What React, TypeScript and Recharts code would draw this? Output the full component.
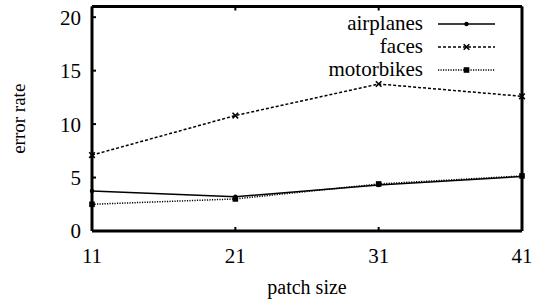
import React from 'react';
import { LineChart, Line, XAxis, YAxis, Legend } from 'recharts';

const patchSizes = [11, 21, 31, 41];
const airplanes = [3.75, 3.2, 4.3, 5.1];
const faces = [7.1, 10.8, 13.75, 12.6];
const motorbikes = [2.5, 3.0, 4.4, 5.15];
const yTicks = [0, 5, 10, 15, 20];

const data = patchSizes.map((p, i) => ({
  patch: p,
  airplanes: airplanes[i],
  faces: faces[i],
  motorbikes: motorbikes[i],
}));

const FONT = 'Liberation Serif';

// gnuplot-ish point markers
const DotMark = (props: any) => {
  const { cx, cy } = props;
  if (cx == null || cy == null) return null;
  return <circle cx={cx} cy={cy} r={2.2} fill="#000" />;
};
const CrossMark = (props: any) => {
  const { cx, cy } = props;
  if (cx == null || cy == null) return null;
  const s = 2.8;
  return (
    <g stroke="#000" strokeWidth={1.6}>
      <line x1={cx - s} y1={cy - s} x2={cx + s} y2={cy + s} />
      <line x1={cx - s} y1={cy + s} x2={cx + s} y2={cy - s} />
    </g>
  );
};
const SquareMark = (props: any) => {
  const { cx, cy } = props;
  if (cx == null || cy == null) return null;
  return <rect x={cx - 2.8} y={cy - 2.8} width={5.6} height={5.6} fill="#000" />;
};

const series = [
  { key: 'airplanes', dash: undefined, Mark: DotMark },
  { key: 'faces', dash: '3 2', Mark: CrossMark },
  { key: 'motorbikes', dash: '1.2 1.3', Mark: SquareMark },
];

const renderLegend = () => (
  <div style={{ fontFamily: FONT, fontSize: 21, color: '#000' }}>
    {series.map(({ key, dash, Mark }) => (
      <div key={key} style={{ display: 'flex', justifyContent: 'flex-end', alignItems: 'center', height: 23 }}>
        <span style={{ lineHeight: '23px' }}>{key}</span>
        <svg width={74} height={12} style={{ display: 'block' }}>
          <line x1={15} y1={6} x2={72} y2={6} stroke="#000" strokeWidth={1.5} strokeDasharray={dash} />
          <Mark cx={43.5} cy={6} />
        </svg>
      </div>
    ))}
  </div>
);

const axisLine = { stroke: '#000', strokeWidth: 3 };
const tickLine = { stroke: '#000', strokeWidth: 2 };
const tickStyle = { fill: '#000', fontSize: 21, fontFamily: FONT };

export default function App() {
  return (
    <div style={{ position: 'absolute', left: 0, top: 0, width: 534, height: 300, background: '#fff', fontFamily: FONT }}>
      <LineChart width={534} height={300} data={data} margin={{ top: 5.5, right: 11, bottom: 0, left: 0 }}>
        <XAxis
          xAxisId="b"
          dataKey="patch"
          type="number"
          domain={[11, 41]}
          ticks={patchSizes}
          height={69}
          axisLine={axisLine}
          tickLine={tickLine}
          tickSize={-4}
          tickMargin={21}
          tick={tickStyle}
          label={{ value: 'patch size', position: 'insideBottom', offset: 6, fill: '#000', fontSize: 20, fontFamily: FONT }}
        />
        <XAxis
          xAxisId="t"
          orientation="top"
          dataKey="patch"
          type="number"
          domain={[11, 41]}
          ticks={patchSizes}
          height={1}
          axisLine={axisLine}
          tickLine={tickLine}
          tickSize={-4}
          tickFormatter={() => ''}
        />
        <YAxis
          yAxisId="l"
          type="number"
          domain={[0, 21]}
          ticks={yTicks}
          width={92}
          axisLine={axisLine}
          tickLine={tickLine}
          tickSize={-4}
          tickMargin={15}
          tick={tickStyle}
          label={{ value: 'error rate', angle: -90, position: 'insideLeft', offset: 18, fill: '#000', fontSize: 19, fontFamily: FONT, style: { textAnchor: 'middle' } }}
        />
        <YAxis
          yAxisId="r"
          orientation="right"
          type="number"
          domain={[0, 21]}
          ticks={yTicks}
          width={1}
          axisLine={axisLine}
          tickLine={tickLine}
          tickSize={-4}
          tickFormatter={() => ''}
        />
        <Legend
          content={renderLegend}
          layout="horizontal"
          verticalAlign="middle"
          align="center"
          wrapperStyle={{ position: 'absolute', top: 12, left: 297, width: 200 }}
        />
        {series.map(({ key, dash, Mark }) => (
          <Line
            key={key}
            xAxisId="b"
            yAxisId="l"
            type="linear"
            dataKey={key}
            stroke="#000"
            strokeWidth={1.5}
            strokeDasharray={dash}
            dot={<Mark />}
            activeDot={false}
            isAnimationActive={false}
          />
        ))}
      </LineChart>
    </div>
  );
}
